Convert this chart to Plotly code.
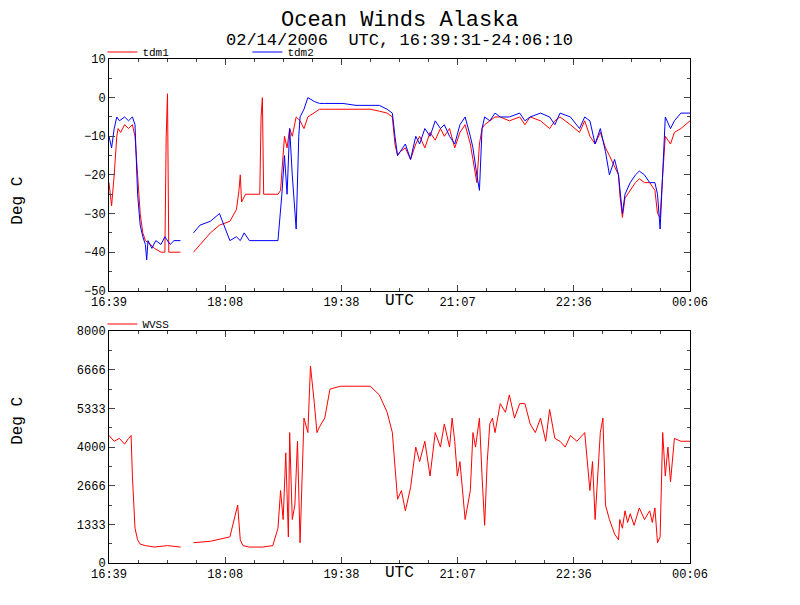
import plotly.graph_objects as go
from plotly.subplots import make_subplots

# minutes since 16:39 UTC
t_tdm1 = [0, 2, 4, 6, 7, 9, 12, 15, 18, 20, 22, 24, 26, 28, 32, 35, 40, 43, 44, 45, 46, 50, 55, 56,
          65, 70, 78, 85, 93, 98, 100, 101, 102, 105, 108, 112, 116, 117, 118, 119, 124, 130, 132, 134,
          135, 137, 139, 141, 144, 147, 150, 153, 158, 162, 166, 170, 180, 190, 201, 208, 214, 218,
          220, 222, 224, 228, 232, 236, 239, 243, 247, 251, 255, 258, 262, 266, 270, 274, 278, 280,
          283, 285, 287, 289, 293, 297, 301, 308, 316, 320, 324, 332, 339, 343, 347, 355, 362, 366,
          370, 374, 378, 382, 385, 389, 392, 393, 395, 397, 401, 405, 408, 412, 416, 420, 422, 424,
          426, 428, 432, 435, 440, 447]
v_tdm1 = [-22, -28, -20, -10, -8, -9, -7, -8, -7, -10, -20, -30, -35, -37, -38, -39, -40, -40, -10, 1, -40, -40, -40, None,
          -40, -38, -35, -33, -32, -29, -24, -20, -27, -25, -25, -25, -25, -5, 0, -25, -25, -25, -24, -15,
          -10, -13, -8, -10, -5, -6, -8, -5, -4, -3, -3, -3, -3, -3, -3, -3.5, -4, -5,
          -12, -15, -14, -13, -16, -12, -10, -13, -9, -11, -8, -10, -8, -13, -9, -7, -12, -16,
          -22, -12, -8, -7, -6, -5, -5, -6, -5, -7, -5, -6, -8, -6, -5, -7, -9, -6,
          -10, -12, -9, -13, -15, -18, -20, -25, -31, -26, -24, -22, -21, -22, -22, -24, -30, -31,
          -20, -10, -12, -9, -8, -6]

t_tdm2 = [0, 2, 4, 6, 8, 12, 15, 18, 20, 22, 24, 26, 28, 29, 30, 33, 36, 40, 43, 47, 50, 55, 56,
          65, 70, 78, 85, 93, 98, 101, 104, 108, 116, 124, 130, 133, 135, 137, 139, 141, 143, 144, 146,
          147, 150, 153, 158, 162, 166, 170, 180, 190, 201, 208, 214, 218, 220, 222, 224, 228, 232,
          236, 239, 243, 247, 251, 255, 258, 262, 266, 270, 274, 278, 280, 283, 285, 287, 289, 293,
          297, 301, 308, 316, 320, 324, 332, 339, 343, 347, 355, 362, 366, 370, 374, 378, 382, 385,
          389, 392, 394, 395, 397, 401, 405, 408, 412, 416, 420, 422, 424, 426, 428, 432, 435, 440, 447]
v_tdm2 = [-10, -13, -8, -5, -6, -5, -6, -5, -7, -25, -33, -36, -38, -42, -37, -39, -37, -38, -36, -38, -37, -37, None,
          -35, -33, -32, -30, -37, -36, -37, -35, -37, -37, -37, -37, -25, -15, -25, -8, -20, -30, -34, -10,
          -5, -3, 0, -1, -1.5, -1.5, -1.5, -1.5, -2, -2, -2, -3, -4, -10, -15, -14, -12, -16,
          -10, -12, -8, -10, -6, -8, -7, -10, -12, -7, -5, -10, -13, -20, -24, -8, -5, -6,
          -4, -5, -5, -4, -6, -5, -4, -5, -7, -4, -5, -8, -5, -6, -12, -8, -14, -20,
          -16, -20, -28, -30, -25, -22, -20, -19, -20, -22, -22, -25, -34, -18, -5, -8, -6, -4, -4]

t_wvss = [0, 4, 8, 12, 15, 17, 18, 20, 22, 24, 28, 35, 45, 55, 56, 65, 78, 93, 99, 101, 103, 108, 118,
          126, 130, 132, 134, 136, 138, 139, 141, 143, 145, 147, 150, 153, 155, 158, 160, 162, 166, 170,
          178, 190, 201, 208, 214, 218, 220, 222, 225, 228, 232, 236, 239, 243, 247, 251, 255, 258, 262,
          264, 266, 268, 270, 274, 278, 280, 282, 285, 287, 289, 291, 293, 295, 297, 301, 305, 308, 312,
          316, 320, 324, 328, 332, 336, 339, 343, 347, 351, 355, 360, 366, 370, 372, 374, 378, 380, 382,
          385, 389, 392, 393, 395, 397, 399, 401, 404, 408, 412, 416, 418, 420, 422, 424, 426, 428, 430,
          432, 435, 440, 447]
v_wvss = [4400, 4200, 4300, 4100, 4300, 4400, 3000, 1200, 800, 650, 600, 550, 600, 550, None, 700, 750, 900, 2000, 800, 600, 550, 550,
          600, 1200, 2500, 1500, 3800, 900, 4500, 1500, 2000, 4200, 700, 5000, 4500, 6800, 5500, 4500, 4700, 5000, 6000,
          6100, 6100, 6100, 5800, 5200, 4500, 3200, 2200, 2500, 1800, 2600, 4000, 3500, 4200, 3000, 4500, 4000, 4800, 4000,
          5000, 4200, 3000, 3500, 1500, 2500, 4500, 4000, 5000, 3000, 1300, 3500, 4800, 5000, 4500, 5500, 5200, 5800, 5000,
          5500, 5500, 4800, 4500, 5000, 4200, 5300, 4300, 4200, 4000, 4400, 4200, 4500, 2500, 3500, 1500, 4500, 5000, 2000,
          1500, 1000, 800, 1500, 1200, 1800, 1400, 1700, 1300, 1900, 1500, 1800, 1400, 1900, 700, 900, 4500, 3000, 4000,
          2800, 4300, 4200, 4200]

tick_vals = [0, 89.4, 178.8, 268.2, 357.6, 447]
tick_text = ['16:39', '18:08', '19:38', '21:07', '22:36', '00:06']

FONT = 'Liberation Mono'

fig = make_subplots(rows=2, cols=1, vertical_spacing=0.08)
fig.add_trace(go.Scatter(x=t_tdm1, y=v_tdm1, mode='lines', name='tdm1',
                         line=dict(color='red', width=1), legend='legend'), row=1, col=1)
fig.add_trace(go.Scatter(x=t_tdm2, y=v_tdm2, mode='lines', name='tdm2',
                         line=dict(color='blue', width=1), legend='legend'), row=1, col=1)
fig.add_trace(go.Scatter(x=t_wvss, y=v_wvss, mode='lines', name='WVSS',
                         line=dict(color='red', width=1), legend='legend2'), row=2, col=1)

axis_style = dict(showline=True, linecolor='black', linewidth=1, mirror='ticks',
                  ticks='inside', ticklen=6, showgrid=False, zeroline=False, automargin=False,
                  tickfont=dict(family=FONT, size=12, color='black'))
for r in (1, 2):
    fig.update_xaxes(range=[0, 447], tickvals=tick_vals, ticktext=tick_text,
                     minor=dict(ticks='inside', ticklen=3, dtick=22.35, tick0=0),
                     row=r, col=1, **axis_style)
fig.update_yaxes(range=[-50, 10], dtick=10, minor=dict(ticks='inside', ticklen=3, dtick=5),
                 row=1, col=1, **axis_style)
fig.update_yaxes(range=[0, 8000], tickvals=[0, 1333, 2666, 4000, 5333, 6666, 8000],
                 minor=dict(ticks='inside', ticklen=3, tickvals=[667, 2000, 3333, 4667, 6000, 7333]),
                 row=2, col=1, **axis_style)
fig.update_yaxes(domain=[0.540, 1.0], row=1, col=1)
fig.update_yaxes(domain=[0.0, 0.460], row=2, col=1)

legend_style = dict(orientation='h', xref='container', yref='container', xanchor='left', yanchor='middle',
                    font=dict(size=11, family=FONT), bgcolor='rgba(0,0,0,0)',
                    entrywidth=100, tracegroupgap=0)
fig.update_layout(
    width=800, height=605, plot_bgcolor='white', paper_bgcolor='white',
    margin=dict(l=101, r=118, t=51, b=50, autoexpand=False),
    font=dict(family=FONT, color='black'),
    legend=dict(x=0.118, y=1 - 44 / 605, **legend_style),
    legend2=dict(x=0.118, y=1 - 316 / 605, **legend_style),
    annotations=[
        dict(text='Ocean Winds Alaska', x=0.5, y=(563 - 6) / 504, xref='paper', yref='paper',
             showarrow=False, font=dict(size=22, family=FONT)),
        dict(text='02/14/2006  UTC, 16:39:31-24:06:10', x=0.5, y=(563 - 29) / 504, xref='paper',
             yref='paper', showarrow=False, font=dict(size=17, family=FONT)),
        dict(text='Deg C', x=-0.157, y=0.77, xref='paper', yref='paper', textangle=-90,
             xanchor='center', showarrow=False, font=dict(size=16, family=FONT)),
        dict(text='Deg C', x=-0.157, y=0.23, xref='paper', yref='paper', textangle=-90,
             xanchor='center', showarrow=False, font=dict(size=16, family=FONT)),
        dict(text='UTC', x=0.5, y=0.54, xref='paper', yref='paper', yanchor='top', yshift=1,
             showarrow=False, font=dict(size=16, family=FONT)),
        dict(text='UTC', x=0.5, y=0.0, xref='paper', yref='paper', yanchor='top', yshift=1,
             showarrow=False, font=dict(size=16, family=FONT)),
    ],
)

fig.write_html('out.html')
